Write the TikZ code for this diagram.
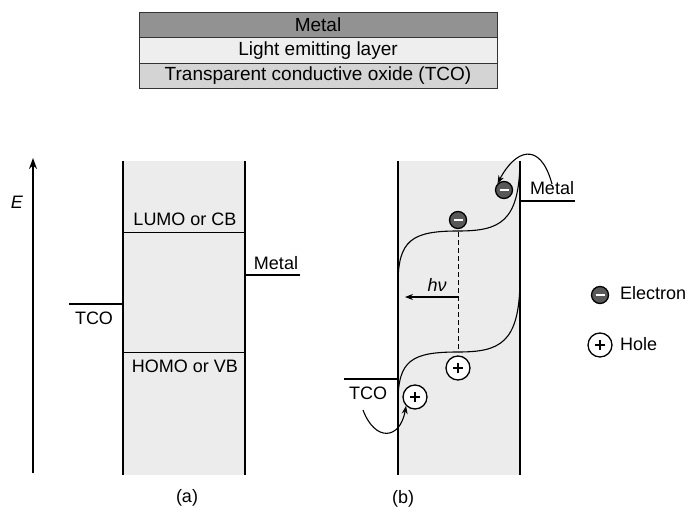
\documentclass[tikz,border=0pt]{standalone}
\usepackage{fontspec}
\setmainfont{Liberation Sans}
\usetikzlibrary{arrows.meta}
\definecolor{metalgray}{RGB}{146,146,146}
\definecolor{lightrow}{RGB}{238,238,238}
\definecolor{tcorow}{RGB}{212,212,212}
\definecolor{layerfill}{RGB}{236,236,236}
\definecolor{edark}{RGB}{88,88,88}
\tikzset{
  rowbox/.style={draw=black!80, line width=0.8pt, minimum width=358pt, minimum height=25.5pt, inner sep=0pt, font=\fontsize{19}{22}\selectfont},
  lbl/.style={font=\fontsize{18}{21}\selectfont, inner sep=0pt},
  wall/.style={line width=1.5pt},
  level/.style={line width=0.8pt},
  contact/.style={line width=1.5pt},
  electron/.style={circle, draw=black, line width=1.3pt, fill=edark, minimum size=17pt, inner sep=0pt,
    path picture={\draw[white, line width=1.6pt] ([xshift=-4.5pt]path picture bounding box.center) -- ([xshift=4.5pt]path picture bounding box.center);}},
  hole/.style={circle, draw=black, line width=1.3pt, fill=white, minimum size=24pt, inner sep=0pt,
    path picture={\draw[black, line width=1.2pt] ([xshift=-5pt]path picture bounding box.center) -- ([xshift=5pt]path picture bounding box.center)
      ([yshift=-5pt]path picture bounding box.center) -- ([yshift=5pt]path picture bounding box.center);}},
  band/.style={line width=1.1pt},
  smallarrow/.style={line width=1.1pt, -{Stealth[length=8pt,width=6pt]}},
}
\begin{document}
\begin{tikzpicture}[x=1pt,y=-1pt]
\useasboundingbox (0,0) rectangle (692,510);
% layer stack
\node[rowbox, fill=metalgray] (rmetal) at (318,25) {Metal};
\node[rowbox, fill=lightrow] (rlight) at (318,50.5) {Light emitting layer};
\node[rowbox, fill=tcorow] (rtco) at (318,76) {Transparent conductive oxide (TCO)};
% ---------- panel (a)
\coordinate (ebot) at (33,473);
\coordinate (etop) at (33,158);
\draw[line width=1.5pt, -{Stealth[length=11pt,width=8pt]}] (ebot) -- (etop);
\node[lbl, font=\fontsize{18}{21}\selectfont\itshape] (elbl) at (17,202) {E};
\fill[layerfill] (123,161) rectangle (245,475);
\coordinate (alt) at (123,161); \coordinate (alb) at (123,475);
\coordinate (art) at (245,161); \coordinate (arb) at (245,475);
\draw[wall] (alt) -- (alb);
\draw[wall] (art) -- (arb);
\coordinate (lumoL) at (123,232); \coordinate (lumoR) at (245,232);
\draw[level] (lumoL) -- (lumoR);
\node[lbl] (lumo) at (185,219) {LUMO or CB};
\coordinate (homoL) at (123,352); \coordinate (homoR) at (245,352);
\draw[level] (homoL) -- (homoR);
\node[lbl] (homo) at (185,366) {HOMO or VB};
\coordinate (ametalA) at (245,275); \coordinate (ametalB) at (300,275);
\draw[contact] (ametalA) -- (ametalB);
\node[lbl] (ametal) at (276,263) {Metal};
\coordinate (atcoA) at (69,304); \coordinate (atcoB) at (123,304);
\draw[contact] (atcoA) -- (atcoB);
\node[lbl] (atco) at (94,318) {TCO};
\node[lbl] (capa) at (187,498) {(a)};
% ---------- panel (b)
\fill[layerfill] (398,161) rectangle (520,475);
\coordinate (blt) at (398,161); \coordinate (blb) at (398,475);
\coordinate (brt) at (520,161); \coordinate (brb) at (520,475);
\draw[wall] (blt) -- (blb);
\draw[wall] (brt) -- (brb);
\coordinate (bmetalA) at (520,201); \coordinate (bmetalB) at (575,201);
\draw[contact] (bmetalA) -- (bmetalB);
\node[lbl] (bmetal) at (552,188) {Metal};
\coordinate (btcoA) at (344,379); \coordinate (btcoB) at (398,379);
\draw[contact] (btcoA) -- (btcoB);
\node[lbl] (btco) at (368,393) {TCO};
% bands
\draw[band] (398,284) .. controls (398,240) and (412,231) .. (458,231)
                      .. controls (500,231) and (519,222) .. (520,162);
\draw[band] (398,402) .. controls (398,360) and (412,352) .. (458,352)
                      .. controls (500,352) and (519,343) .. (520,282);
% recombination
\coordinate (dtop) at (458,232); \coordinate (dbot) at (458,352);
\draw[line width=1pt, dash pattern=on 5pt off 3pt] (dtop) -- (dbot);
\coordinate (hvA) at (458,297); \coordinate (hvB) at (405,297);
\draw[smallarrow] (hvA) -- (hvB);
\node[lbl, font=\fontsize{18}{21}\selectfont\itshape] (hv) at (437,285) {hν};
% carriers
\node[electron] (e1) at (458,220) {};
\node[electron] (e2) at (504,190) {};
\node[hole] (h1) at (458,368) {};
\node[hole] (h2) at (415,397) {};
% injection arrows
\coordinate (einj) at (552,184);
\draw[smallarrow] (einj) .. controls (540,140) and (515,150) .. (e2.north west);
\coordinate (hinj) at (363,410);
\draw[smallarrow] (hinj) .. controls (375,442) and (400,440) .. (h2.south west);
\node[lbl] (capb) at (403,499) {(b)};
% legend
\node[electron] (le) at (600,295) {};
\node[lbl, anchor=west] (lelbl) at (620,293) {Electron};
\node[hole] (lh) at (600,345) {};
\node[lbl, anchor=west] (lhlbl) at (620,344) {Hole};
\end{tikzpicture}
\end{document}
